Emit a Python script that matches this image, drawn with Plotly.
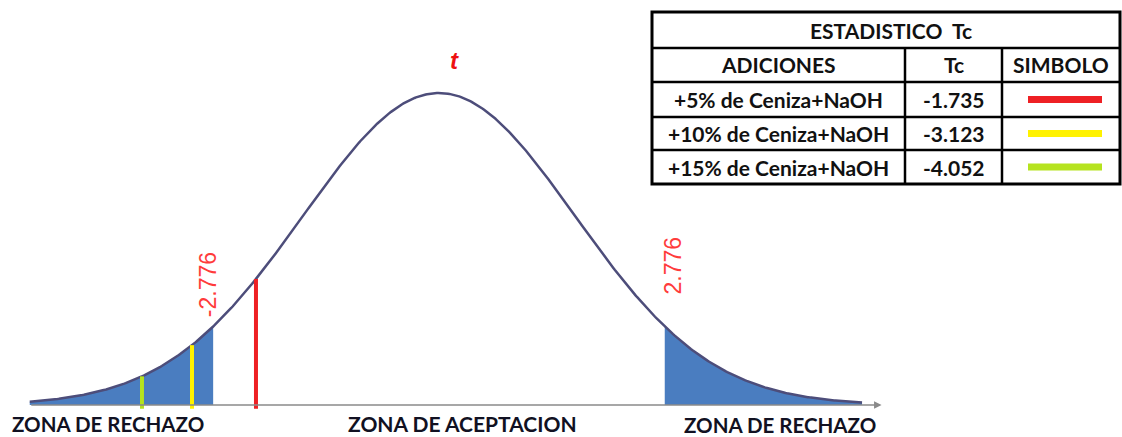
import numpy as np
import plotly.graph_objects as go

W, H = 1122, 437

# ---- data ----
t_crit = 2.776                      # critical value (two tails)
additions = ["+5% de Ceniza+NaOH", "+10% de Ceniza+NaOH", "+15% de Ceniza+NaOH"]
tc_values = [-1.735, -3.123, -4.052]
symbol_colors = ["#ee2024", "#fff200", "#b5e31f"]
# positions at which the Tc markers are drawn on the (schematic) curve
marker_pos = [-2.254, -3.042, -3.658]
zone_labels = ["ZONA DE RECHAZO", "ZONA DE ACEPTACION", "ZONA DE RECHAZO"]
table_title = "ESTADISTICO  Tc"
table_headers = ["ADICIONES", "Tc", "SIMBOLO"]

# schematic bell curve (relative height, peak = 1)
scale = 1.674
x_left, x_right = -5.04, 5.21


def bell(u):
    return np.exp(-np.asarray(u) ** 2 / (2 * scale ** 2))


# ---- layout geometry (pixels) ----
cx, ppu = 439.0, 81.2          # centre pixel, pixels per unit
base_py, peak_py = 405.0, 93.0
hpx = base_py - peak_py
xr = [(0 - cx) / ppu, (W - cx) / ppu]
yr = [-(H - base_py) / hpx, base_py / hpx]


def px(p):
    return p / W


def py(p):
    return 1 - p / H


def note(xp, ypx, text, font, **kw):
    fig.add_annotation(x=px(xp), y=py(ypx), xref="paper", yref="paper", text=text,
                       showarrow=False, xanchor="center", yanchor="middle", font=font, **kw)


fig = go.Figure()

u = np.linspace(x_left, x_right, 600)
yv = bell(u)

# rejection zones
ml = u <= -t_crit
mr = u >= t_crit
for m in (ml, mr):
    fig.add_trace(go.Scatter(x=u[m], y=yv[m], mode="lines", line=dict(width=0),
                             fill="tozeroy", fillcolor="#4a7dc0", hoverinfo="skip",
                             showlegend=False))

# baseline axis with arrow
fig.add_annotation(x=5.45, y=0, ax=x_left, ay=0, xref="x", yref="y", axref="x", ayref="y",
                   showarrow=True, arrowhead=2, arrowsize=1, arrowwidth=1.5,
                   arrowcolor="#8a8a8a", text="")

# curve
fig.add_trace(go.Scatter(x=u, y=yv, mode="lines", line=dict(color="#4d4d7a", width=2.5),
                         hoverinfo="skip", showlegend=False))

# Tc markers
for pos, col in zip(marker_pos, symbol_colors):
    fig.add_trace(go.Scatter(x=[pos, pos], y=[-0.012, float(bell(pos))], mode="lines",
                             line=dict(color=col, width=4), hoverinfo="skip",
                             showlegend=False))

# critical labels
cfont = dict(family="Liberation Sans", size=23, color="#ff3b3b")
fig.add_annotation(x=-t_crit, y=float(bell(-t_crit)), xref="x", yref="y", text=f"-{t_crit:.3f}",
                   showarrow=False, textangle=-90, xanchor="center", yanchor="bottom",
                   xshift=-6, yshift=7, font=cfont)
fig.add_annotation(x=t_crit, y=float(bell(t_crit)), xref="x", yref="y", text=f"{t_crit:.3f}",
                   showarrow=False, textangle=-90, xanchor="center", yanchor="bottom",
                   xshift=9, yshift=30, font=cfont)

# t label
note(454, 60, "<b><i>t</i></b>", dict(family="Liberation Sans", size=24, color="#ee1111"))

# zone labels
for txt, xp, ypx, fs in zip(zone_labels, [108, 462, 780], [424, 423, 425], [20.5, 21, 20.5]):
    note(xp, ypx, f"<b>{txt}</b>", dict(family="Lato", size=fs, color="#111122"))

# ---- table ----
tl, tr_, tt, tb = 652, 1120, 12, 184
rows = [12, 48, 82, 117, 150, 184]
cols = [652, 905, 1002, 1120]
fig.add_shape(type="rect", xref="paper", yref="paper", x0=px(tl), x1=px(tr_), y0=py(tb), y1=py(tt),
              line=dict(color="black", width=3), fillcolor="white", layer="above")
for r in rows[1:-1]:
    fig.add_shape(type="line", xref="paper", yref="paper", x0=px(tl), x1=px(tr_), y0=py(r), y1=py(r),
                  line=dict(color="black", width=2.5))
for c in cols[1:-1]:
    fig.add_shape(type="line", xref="paper", yref="paper", x0=px(c), x1=px(c), y0=py(rows[1]), y1=py(tb),
                  line=dict(color="black", width=2.5))

tfont = dict(family="Lato", size=21, color="#111111")
note(891, (rows[0] + rows[1]) / 2, f"<b>{table_title}</b>", tfont)
ccent = [(cols[i] + cols[i + 1]) / 2 for i in range(3)]
for hname, cxp in zip(table_headers, ccent):
    note(cxp, (rows[1] + rows[2]) / 2, f"<b>{hname}</b>", tfont)
for i, (a, v, col) in enumerate(zip(additions, tc_values, symbol_colors)):
    ymid = (rows[2 + i] + rows[3 + i]) / 2
    note(ccent[0], ymid, f"<b>{a}</b>", tfont)
    note(ccent[1], ymid, f"<b>{v:.3f}</b>", tfont)
    fig.add_shape(type="line", xref="paper", yref="paper", x0=px(1028), x1=px(1102),
                  y0=py(ymid), y1=py(ymid), line=dict(color=col, width=7))

fig.update_layout(width=W, height=H, autosize=False, margin=dict(l=0, r=0, t=0, b=0),
                  paper_bgcolor="white", plot_bgcolor="white",
                  xaxis=dict(range=xr, visible=False, fixedrange=True),
                  yaxis=dict(range=yr, visible=False, fixedrange=True),
                  showlegend=False)

fig.write_html("out.html", config={"displayModeBar": False},
               post_script="document.body.style.margin='0px';")
